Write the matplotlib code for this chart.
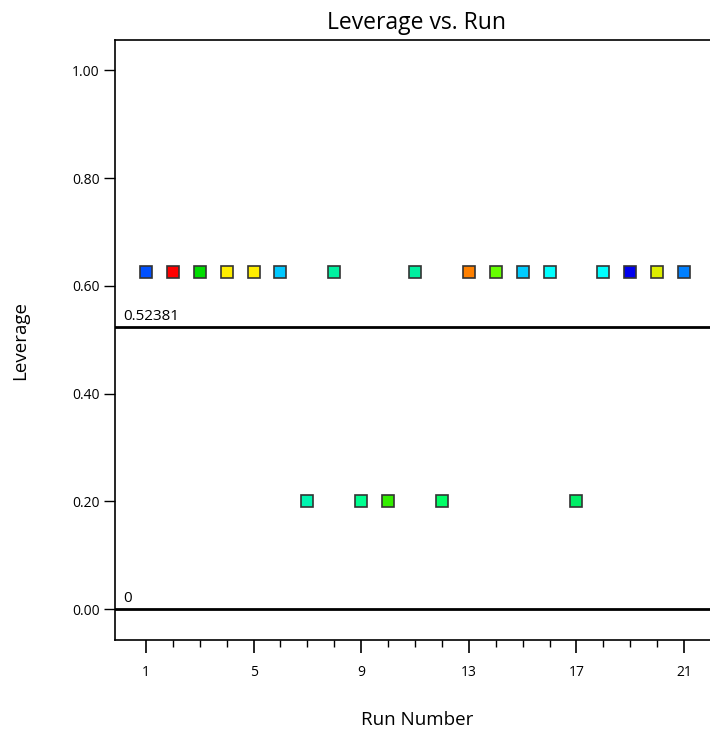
import numpy as np
import matplotlib.pyplot as plt

plt.rcParams['font.family'] = ['Open Sans', 'DejaVu Sans']

# Datos
run = np.arange(1, 22)
leverage = [0.625, 0.625, 0.625, 0.625, 0.625, 0.625, 0.2, 0.625, 0.2, 0.2, 0.625,
            0.2, 0.625, 0.625, 0.625, 0.625, 0.2, 0.625, 0.625, 0.625, 0.625]
colores = ["#0050ff", "#ff0000", "#00dd00", "#ffee00", "#ffee00", "#00c8ff", "#00f5b0",
           "#00f0a0", "#00ff90", "#33ee00", "#00f0a0", "#00ff66", "#ff8000", "#66ff00",
           "#00ccff", "#00ffff", "#00ee66", "#00ffff", "#0000ee", "#ddee00", "#0080ff"]
limite = 0.52381
y_ticks = [0.0, 0.2, 0.4, 0.6, 0.8, 1.0]
x_ticks = [1, 5, 9, 13, 17, 21]

fig = plt.figure(figsize=(7.1, 7.31), dpi=100)
ax = fig.add_axes([0.162, 0.1245, 0.85, 0.8205])

for r, l, c in zip(run, leverage, colores):
    ax.plot(r, l, "s", markersize=8.5, markerfacecolor=c, markeredgecolor="#333333",
            markeredgewidth=1.2, zorder=3)

# Lineas de referencia
ax.axhline(limite, color="black", linewidth=2)
ax.axhline(0, color="black", linewidth=2)
ax.text(0.15, limite + 0.006, f"{limite}", fontsize=11, va="bottom", ha="left")
ax.text(0.15, 0.006, "0", fontsize=11, va="bottom", ha="left")

ax.set_xlim(-0.15, 22.28)
ax.set_ylim(-0.0575, 1.056)
ax.set_xticks(x_ticks)
ax.set_xticks(run, minor=True)
ax.set_yticks(y_ticks)
ax.set_yticklabels([f"{v:.2f}" for v in y_ticks])
ax.tick_params(axis="x", which="major", length=9, width=1.2, labelsize=10, pad=9)
ax.tick_params(axis="x", which="minor", length=5, width=1)
ax.tick_params(axis="y", length=8, width=1, labelsize=10, pad=3)
ax.spines["right"].set_visible(False)
for s in ["left", "top", "bottom"]:
    ax.spines[s].set_linewidth(1.2)

ax.set_xlabel("Run Number", fontsize=13.5, labelpad=22)
ax.set_ylabel("Leverage", fontsize=13.5, labelpad=31)
ax.set_title("Leverage vs. Run", fontsize=16.5, pad=8)

fig.savefig("out.png", dpi=100)
